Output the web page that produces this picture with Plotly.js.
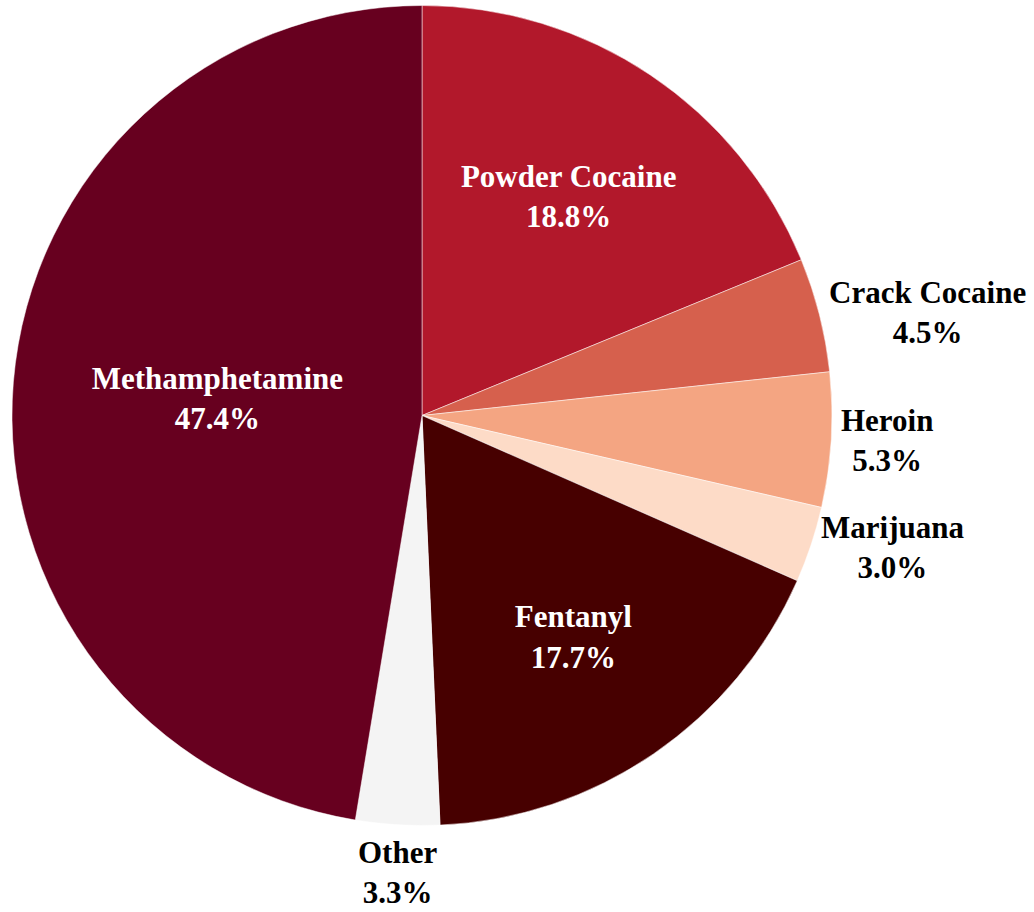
<!DOCTYPE html>
<html>
<head>
<meta charset="utf-8">
<script src="https://cdn.plot.ly/plotly-3.0.1.min.js"></script>
<style>html,body{margin:0;padding:0;background:#fff;}#chart{width:1034px;height:912px;}</style>
</head>
<body>
<div id="chart"></div>
<script>
var labels = ["Powder Cocaine", "Crack Cocaine", "Heroin", "Marijuana", "Fentanyl", "Other", "Methamphetamine"];
var values = [18.8, 4.5, 5.3, 3.0, 17.7, 3.3, 47.4];
var colors = ["#B2182B", "#D6604D", "#F4A582", "#FDDBC7", "#470000", "#F4F4F4", "#67001F"];
var labelInside = [true, false, false, false, true, false, true];

var FONT = "Liberation Serif";
var FSIZE = 31;
var W = 1034, H = 912;
var margin = {l: 12, r: 202, t: 5, b: 86};

// Outside labels: placed at each slice's mid-angle, just beyond the rim
var total = values.reduce(function (a, b) { return a + b; }, 0);
var R = Math.min(W - margin.l - margin.r, H - margin.t - margin.b) / 2;
var gap = 8;
var annotations = [];
var cum = 0;
for (var i = 0; i < values.length; i++) {
  var mid = (cum + values[i] / 2) / total * 2 * Math.PI;
  cum += values[i];
  if (labelInside[i]) continue;
  var s = Math.sin(mid), c = Math.cos(mid);
  var xa, ya;
  if (Math.abs(s) < 0.3) { xa = "center"; ya = c < 0 ? "top" : "bottom"; }
  else { xa = s > 0 ? "left" : "right"; ya = "middle"; }
  annotations.push({
    xref: "paper", yref: "paper", x: 0.5, y: 0.5,
    xshift: (R + gap) * s, yshift: (R + gap) * c,
    xanchor: xa, yanchor: ya, showarrow: false, align: "center",
    text: labels[i] + "<br>" + (values[i] / total * 100).toFixed(1) + "%",
    font: {family: FONT, size: FSIZE, weight: "bold", color: "#000000"}
  });
}

var trace = {
  type: "pie",
  labels: labels,
  values: values,
  sort: false,
  direction: "clockwise",
  rotation: 0,
  marker: {colors: colors, line: {color: "#ffffff", width: 0.5}},
  texttemplate: "%{label}<br>%{percent:.1%}",
  textposition: labelInside.map(function (v) { return v ? "inside" : "none"; }),
  insidetextorientation: "horizontal",
  textfont: {family: FONT, size: FSIZE, weight: "bold", color: "#ffffff"},
  insidetextfont: {family: FONT, size: FSIZE, weight: "bold", color: "#ffffff"},
  hoverinfo: "label+percent",
  showlegend: false,
  domain: {x: [0, 1], y: [0, 1]}
};

var layout = {
  width: W,
  height: H,
  margin: margin,
  paper_bgcolor: "#ffffff",
  font: {family: FONT},
  showlegend: false,
  annotations: annotations
};

Plotly.newPlot("chart", [trace], layout, {displayModeBar: false, staticPlot: true});
</script>
</body>
</html>
